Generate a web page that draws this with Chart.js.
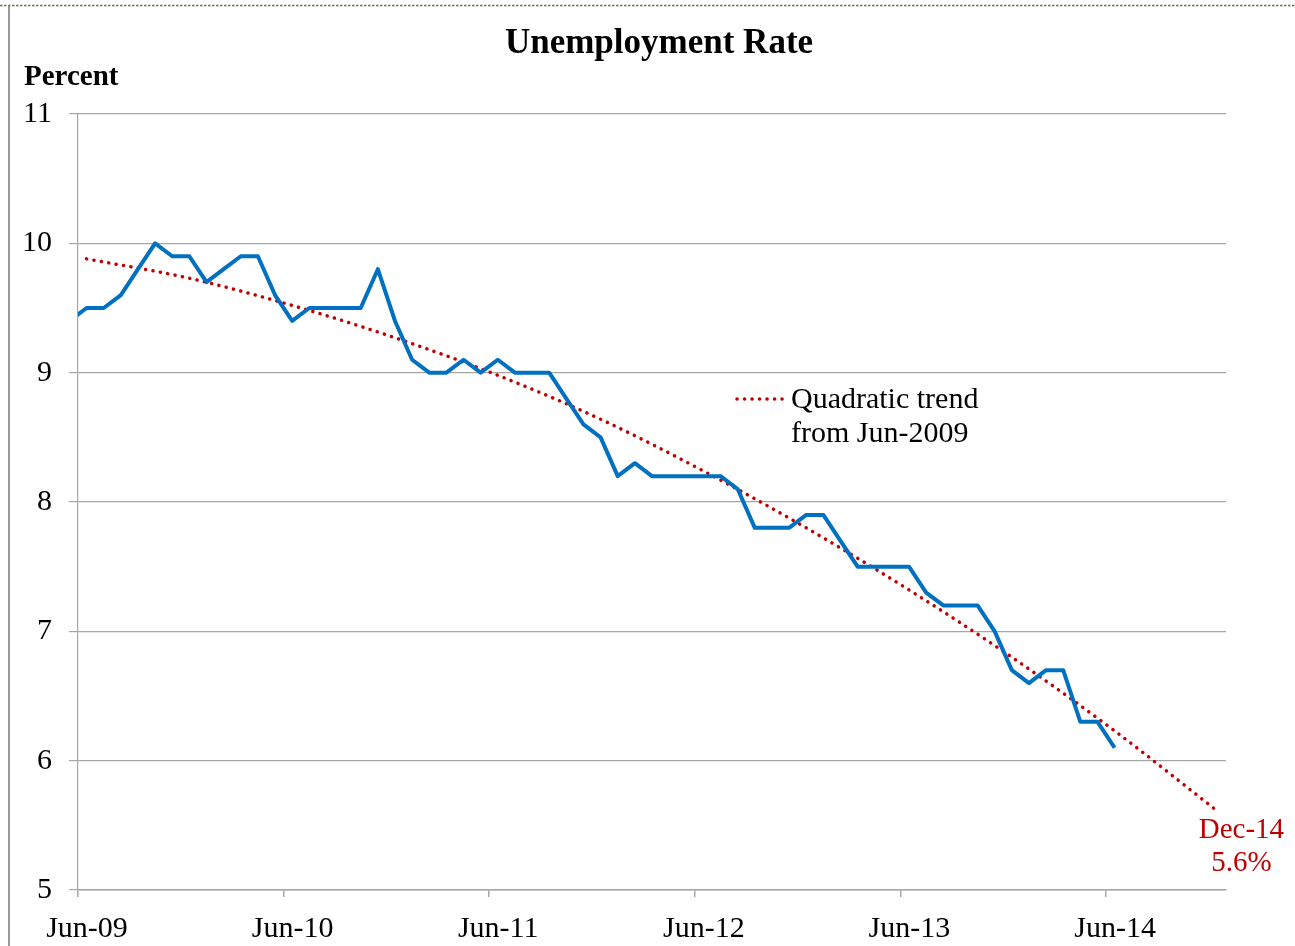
<!DOCTYPE html>
<html>
<head>
<meta charset="utf-8">
<title>Unemployment Rate</title>
<script src="https://cdn.jsdelivr.net/npm/chart.js@4.4.0/dist/chart.umd.min.js"></script>
<style>
    html, body { margin: 0; padding: 0; background: #fff; }
    #wrap { position: relative; width: 1295px; height: 946px; }
</style>
</head>
<body>
<div id="wrap"><canvas id="chart" width="1295" height="946"></canvas></div>
<script>
// months counted from Jun-2009 (0 = start of Jun-09); first value is May-09
const firstMonth = -1;
const rateValues = [
    9.4,
    9.5, 9.5, 9.6, 9.8, 10.0, 9.9, 9.9,
    9.7, 9.8, 9.9, 9.9, 9.6, 9.4, 9.5, 9.5, 9.5, 9.5, 9.8, 9.4,
    9.1, 9.0, 9.0, 9.1, 9.0, 9.1, 9.0, 9.0, 9.0, 8.8, 8.6, 8.5,
    8.2, 8.3, 8.2, 8.2, 8.2, 8.2, 8.2, 8.1, 7.8, 7.8, 7.8, 7.9,
    7.9, 7.7, 7.5, 7.5, 7.5, 7.5, 7.3, 7.2, 7.2, 7.2, 7.0, 6.7,
    6.6, 6.7, 6.7, 6.3, 6.3, 6.1
];

// quadratic trend, every 6 months (Jun-09 .. Dec-14)
const trendMonths = [0, 6, 12, 18, 24, 30, 36, 42, 48, 54, 60, 66];
const trendValues = [9.88, 9.73, 9.52, 9.27, 8.98, 8.64, 8.24, 7.80, 7.32, 6.80, 6.23, 5.61];

const xTickValues = [0, 12, 24, 36, 48, 60];
const xTickLabels = ['Jun-09', 'Jun-10', 'Jun-11', 'Jun-12', 'Jun-13', 'Jun-14'];
const yTicks = [5, 6, 7, 8, 9, 10, 11];

const serif = "'Liberation Serif', 'Times New Roman', serif";
const blue = '#0070C0';
const red = '#C00000';

const ratePoints = rateValues.map((v, i) => ({ x: firstMonth + i + 0.5, y: v }));
const trendPoints = trendValues.map((v, i) => ({ x: trendMonths[i] + 0.5, y: v }));

// title, axis caption, legend box, end label and the frame lines
const decorations = {
    id: 'decorations',
    afterDraw(chart) {
        const ctx = chart.ctx;
        const xs = chart.scales.x;
        ctx.save();

        // frame: dotted top edge and grey left edge
        ctx.strokeStyle = '#7a6a4a';
        ctx.lineWidth = 1.5;
        ctx.setLineDash([2.5, 1.5]);
        ctx.beginPath();
        ctx.moveTo(0, 5.5);
        ctx.lineTo(1295, 5.5);
        ctx.stroke();
        ctx.setLineDash([]);
        ctx.strokeStyle = '#9a9a9a';
        ctx.lineWidth = 2;
        ctx.beginPath();
        ctx.moveTo(9, 6);
        ctx.lineTo(9, 946);
        ctx.stroke();

        ctx.fillStyle = '#000';
        ctx.textBaseline = 'alphabetic';
        ctx.textAlign = 'center';
        ctx.font = "bold 35px " + serif;
        ctx.fillText('Unemployment Rate', 659, 53);

        ctx.textAlign = 'left';
        ctx.font = "bold 29px " + serif;
        ctx.fillText('Percent', 24, 85);

        // legend
        ctx.strokeStyle = red;
        ctx.lineWidth = 3.5;
        ctx.lineCap = 'round';
        ctx.setLineDash([0.1, 7.4]);
        ctx.beginPath();
        ctx.moveTo(737, 399);
        ctx.lineTo(784, 399);
        ctx.stroke();
        ctx.setLineDash([]);
        ctx.font = "30px " + serif;
        ctx.fillStyle = '#000';
        ctx.textBaseline = 'middle';
        ctx.fillText('Quadratic trend', 791, 400);
        ctx.fillText('from Jun-2009', 791, 434);

        // end-of-trend label
        const last = trendPoints[trendPoints.length - 1];
        const lx = xs.getPixelForValue(last.x) + 24;
        ctx.fillStyle = red;
        ctx.textAlign = 'center';
        ctx.font = "29px " + serif;
        ctx.fillText('Dec-14', lx, 830);
        ctx.fillText(last.y.toFixed(1) + '%', lx, 863);

        ctx.restore();
    }
};

new Chart(document.getElementById('chart'), {
    type: 'line',
    data: {
        datasets: [
            {
                label: 'Unemployment rate',
                data: ratePoints,
                borderColor: blue,
                borderWidth: 4,
                pointRadius: 0,
                tension: 0,
                borderJoinStyle: 'round'
            },
            {
                label: 'Quadratic trend from Jun-2009',
                data: trendPoints,
                borderColor: red,
                borderWidth: 3.5,
                borderDash: [0.1, 7.4],
                borderCapStyle: 'round',
                pointRadius: 0,
                cubicInterpolationMode: 'monotone'
            }
        ]
    },
    plugins: [decorations],
    options: {
        responsive: false,
        animation: false,
        layout: { padding: { left: 0, top: 114, right: 69, bottom: 0 } },
        plugins: {
            legend: { display: false },
            title: { display: false },
            tooltip: { enabled: false }
        },
        scales: {
            x: {
                type: 'linear',
                min: 0,
                max: 67,
                afterBuildTicks(scale) {
                    scale.ticks = xTickValues.map(v => ({ value: v }));
                },
                afterFit(scale) { scale.height = 56; },
                grid: {
                    drawOnChartArea: false,
                    drawTicks: true,
                    tickLength: 7,
                    color: '#a6a6a6',
                    lineWidth: 1.5
                },
                border: { color: '#a6a6a6', width: 1.5 },
                ticks: {
                    autoSkip: false,
                    maxRotation: 0,
                    padding: 14,
                    labelOffset: 9,
                    color: '#000',
                    font: { family: serif, size: 30 },
                    callback: (v) => xTickLabels[xTickValues.indexOf(v)]
                }
            },
            y: {
                min: 5,
                max: 11,
                afterBuildTicks(scale) {
                    scale.ticks = yTicks.map(v => ({ value: v }));
                },
                afterFit(scale) { scale.width = 78; },
                grid: {
                    color: '#a6a6a6',
                    lineWidth: 1.2,
                    tickLength: 9
                },
                border: { color: '#a6a6a6', width: 1.2 },
                ticks: {
                    padding: 17,
                    color: '#000',
                    font: { family: serif, size: 30 }
                }
            }
        }
    }
});
</script>
</body>
</html>
